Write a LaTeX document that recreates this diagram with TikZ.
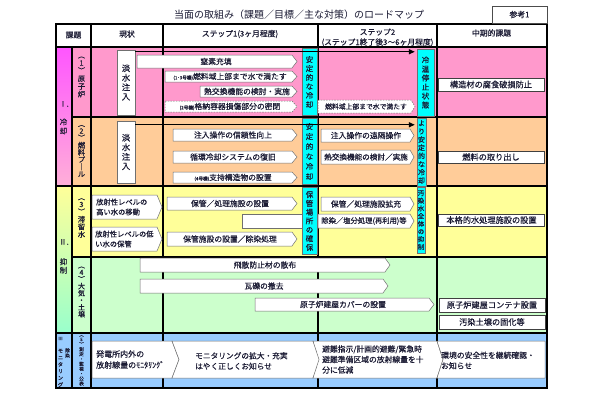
\documentclass[tikz,border=0pt]{standalone}
\usepackage{fontspec}
\setmainfont{Noto Sans CJK JP}[FakeBold=0.35]
\newfontfamily\titlefont{Noto Sans CJK JP}
\usetikzlibrary{arrows.meta}
\definecolor{rowA}{HTML}{FF99CC}
\definecolor{rowB}{HTML}{FFCC99}
\definecolor{rowC}{HTML}{FFFF99}
\definecolor{rowD}{HTML}{CCFFCC}
\definecolor{rowE}{HTML}{99CCFF}
\definecolor{cyanb}{HTML}{00FFFF}
\definecolor{magI}{HTML}{FF55FF}
\definecolor{pinkI}{HTML}{FFB0D8}
\definecolor{mintII}{HTML}{99FFCC}
\definecolor{bordgray}{HTML}{707070}
\definecolor{txtdark}{HTML}{1A1A33}
\newcommand\fsz[2]{\fontsize{#1}{#2}\selectfont}
\newcommand\pshape[6]{\draw[#1] (#2,#3) -- ({#4-#6},#3) -- (#4,{(#3+#5)/2}) -- ({#4-#6},#5) -- (#2,#5) -- cycle;}
\newcommand\cshape[6]{\draw[#1] (#2,#3) -- ({#4-#6},#3) -- (#4,{(#3+#5)/2}) -- ({#4-#6},#5) -- (#2,#5) -- ({#2+#6},{(#3+#5)/2}) -- cycle;}
\newcommand\smalltag[1]{{\fsz{4.6}{5}#1}}
\begin{document}
\begin{tikzpicture}[x=1pt,y=-1pt,
  every node/.style={text=txtdark},
  grid/.style={line width=1.3pt,draw=black,line cap=rect},
  wbox/.style={fill=white,draw=bordgray,line width=0.5pt},
  dbox/.style={fill=white,draw=bordgray,line width=0.5pt,dash pattern=on 1.6pt off 1.1pt},
  btxt/.style={inner sep=0pt,font=\fsz{7.8}{9}},
  mtxt/.style={inner sep=0pt,align=left,font=\fsz{7.8}{10.5},anchor=west},
  vtxt/.style={inner sep=0pt,align=center,font=\fsz{7}{7.5}},
  cyanbox/.style={fill=cyanb,draw=bordgray,line width=0.4pt,inner sep=0pt,align=center},
  tansui/.style={fill=white,draw=bordgray,line width=0.5pt,inner sep=0pt,align=center,minimum width=18pt,font=\fsz{8.3}{9.5}},
  midbox/.style={fill=white,draw=black!75,line width=0.6pt,inner sep=0pt,minimum width=106pt,font=\fsz{8.2}{9}},
  hdr/.style={inner sep=0pt,font=\fsz{7.8}{9}},
  flowarrow/.style={line width=1.3pt,draw=black,-{Triangle[length=6pt,width=5pt]}},
]
\useasboundingbox (0,0) rectangle (610,400);
\fill[white] (0,0) rectangle (610,400);
% backgrounds
\fill[rowA] (72,47) rectangle (547,117);
\fill[rowB] (72,117) rectangle (547,186);
\fill[rowC] (72,186) rectangle (547,257);
\fill[rowD] (72,257) rectangle (547,333);
\fill[rowE] (56,333) rectangle (547,388);
\shade[top color=magI,bottom color=pinkI] (56,47) rectangle (72,186);
\shade[top color=rowC,bottom color=mintII] (56,186) rectangle (72,333);
% grid
\draw[grid] (56,24) rectangle (547,388);
\draw[grid] (56,47) -- (547,47);
\draw[grid] (72,117) -- (547,117);
\draw[grid] (56,186) -- (547,186);
\draw[grid] (72,257) -- (547,257);
\draw[grid] (56,333) -- (547,333);
\draw[grid] (72,47) -- (72,388);
\foreach \x in {91,163,318,437} \draw[grid] (\x,24) -- (\x,388);
% title and header
\node[inner sep=0pt,font=\titlefont\fsz{10}{12}] (title) at (299,15) {当面の取組み（課題／目標／主な対策）のロードマップ};
\node[draw=black!70,line width=0.6pt,fill=white,minimum width=55pt,minimum height=17pt,inner sep=0pt,font=\fsz{7.8}{9}] (sanko) at (519.5,14.5) {参考1};
\node[hdr] (hkadai) at (73.5,35) {課題};
\node[hdr] (hgenjo) at (127,34) {現状};
\node[hdr] (hstep1) at (240,34) {ステップ1(3ヶ月程度)};
\node[hdr] (hstep2) at (377.5,32) {ステップ2};
\node[hdr] (hstep2b) at (377.5,42.5) {(ステップ1終了後3～6ヶ月程度)};
\node[hdr] (hmid) at (491.5,33) {中期的課題};
% roman column labels
\node[inner sep=0pt,font=\fsz{7.5}{8}] (romI) at (64,104) {Ⅰ.};
\node[vtxt,font=\fsz{7.5}{9}] (romIl) at (63.5,126.5) {冷\\却};
\node[inner sep=0pt,font=\fsz{7.5}{8}] (romII) at (64,242) {Ⅱ.};
\node[vtxt,font=\fsz{7.5}{8.5}] (romIIl) at (63.5,266) {抑\\制};
\node[inner sep=0pt,font=\fsz{4.6}{5}] (romIII) at (60.5,338.5) {Ⅲ};
\node[vtxt,font=\fsz{4.6}{5.2}] (romIIIa) at (67.5,353) {除\\染};
\node[vtxt,font=\fsz{5.2}{6.8}] (romIIIb) at (60.5,368) {モ\\ニ\\タ\\リ\\ン\\グ};
% sub labels
\node[vtxt,font=\fsz{7.3}{7.8}] (lab1) at (81.5,77) {︵\\1\\︶\\原\\子\\炉};
\node[vtxt,font=\fsz{7.3}{7.2}] (lab2) at (81.5,151) {︵\\2\\︶\\燃\\料\\プ\\｜\\ル};
\node[vtxt,font=\fsz{7.3}{7.5}] (lab3) at (81.5,218) {︵\\3\\︶\\滞\\留\\水};
\node[vtxt,font=\fsz{7}{7}] (lab4) at (81.5,292) {︵\\4\\︶\\大\\気\\・\\土\\壌};
\node[vtxt,font=\fsz{4.6}{4.9}] (lab5) at (81.5,360.5) {︵\\5\\︶\\測\\定\\・\\監\\視\\・\\公\\表};
% ===== row 1 =====
\node[tansui,minimum height=65pt] (tansui1) at (126,82.5) {淡\\水\\注\\入};
\pshape{wbox}{137}{55}{297}{68}{5}
\node[btxt] (chisso) at (216,61.5) {窒素充填};
\pshape{wbox}{165}{71}{297}{82}{5}
\node[btxt] (mitasu1) at (230,76.5) {\smalltag{(1･3号機)}燃料域上部まで水で満たす};
\pshape{wbox}{200}{86}{297}{97}{5}
\node[btxt] (netsu1) at (247,91.5) {熱交換機能の検討・実施};
\pshape{dbox}{165}{101}{297}{112}{5}
\node[btxt] (mippei) at (230,106.5) {\smalltag{(2号機)}格納容器損傷部分の密閉};
\node[cyanbox,minimum width=15pt,minimum height=67pt,font=\fsz{7.5}{9}] (anzen1) at (309.5,82) {安\\定\\的\\な\\冷\\却};
\pshape{dbox}{318}{100}{415}{113}{4}
\node[btxt,font=\fsz{6.8}{8}] (mitasu2) at (366,106.5) {燃料域上部まで水で満たす};
\node[cyanbox,minimum width=17pt,minimum height=67pt,font=\fsz{7.5}{9}] (reion) at (425.5,82.5) {冷\\温\\停\\止\\状\\態};
\node[midbox,minimum height=13pt] (fushoku) at (491,84.5) {構造材の腐食破損防止};
\coordinate (a1) at ([yshift=-2pt]tansui1.north east);
\draw[flowarrow,shorten >=2pt] (a1) -- (a1 -| reion.west);
% ===== row 2 =====
\node[tansui,minimum height=62pt] (tansui2) at (126,152) {淡\\水\\注\\入};
\pshape{wbox}{173}{129}{297}{141}{5}
\node[btxt] (shinrai) at (233,135) {注入操作の信頼性向上};
\pshape{wbox}{173}{151}{297}{163}{5}
\node[btxt] (junkan) at (233,157) {循環冷却システムの復旧};
\pshape{wbox}{173}{172}{297}{183}{5}
\node[btxt] (shiji) at (233,177.5) {\smalltag{(4号機)}支持構造物の設置};
\node[cyanbox,minimum width=15pt,minimum height=66pt,font=\fsz{7.5}{10}] (anzen2) at (309.5,151.5) {安\\定\\的\\な\\冷\\却};
\pshape{wbox}{321}{129}{414}{142}{4}
\node[btxt] (enkaku) at (366,135.5) {注入操作の遠隔操作};
\pshape{wbox}{321}{150}{414}{164}{4}
\node[btxt,font=\fsz{7.6}{9}] (netsu2) at (366,157) {熱交換機能の検討／実施};
\node[cyanbox,minimum width=9pt,minimum height=68pt,font=\fsz{7}{8.2}] (yori) at (421.5,152) {よ\\り\\安\\定\\的\\な\\冷\\却};
\node[midbox,minimum height=12pt] (toridashi) at (491,157) {燃料の取り出し};
\coordinate (a2) at ([yshift=-4pt]tansui2.north east);
\draw[flowarrow,shorten >=2pt] (a2) -- (a2 -| yori.west);
% ===== row 3 =====
\pshape{wbox}{92}{195}{162}{219}{5}
\node[mtxt,font=\fsz{7.3}{10}] (takai) at (96,207) {放射性レベルの\\高い水の移動};
\pshape{wbox}{92}{227}{162}{251}{5}
\node[mtxt,font=\fsz{7.3}{10}] (hikui) at (95,239) {放射性レベルの低\\い水の保管};
\pshape{wbox}{167}{197}{297}{210}{5}
\node[btxt] (shori1) at (230,203.5) {保管／処理施設の設置};
\draw[wbox] (242,214) rectangle (304,228);
\pshape{wbox}{167}{232}{297}{246}{5}
\node[btxt] (josen1) at (230,239) {保管施設の設置／除染処理};
\node[cyanbox,minimum width=15pt,minimum height=67pt,font=\fsz{7.5}{8.8}] (hokan) at (309.5,221) {保\\管\\場\\所\\の\\確\\保};
\pshape{wbox}{321}{197}{414}{211}{4}
\node[btxt] (kakuju) at (366,204) {保管／処理施設拡充};
\pshape{wbox}{318}{214}{414}{228}{4}
\node[btxt,font=\fsz{7.3}{9}] (ensho) at (364,221) {除染／塩分処理(再利用)等};
\node[cyanbox,minimum width=8pt,minimum height=66pt,font=\fsz{6.5}{7.7}] (osen) at (421,220) {汚\\染\\水\\全\\体\\の\\抑\\制};
\node[midbox,minimum height=12pt] (honkaku) at (491.5,220) {本格的水処理施設の設置};
% ===== row 4 =====
\pshape{wbox}{140}{258}{390}{272}{5}
\node[btxt] (hisan) at (265,265) {飛散防止材の散布};
\pshape{wbox}{140}{279}{388}{293}{5}
\node[btxt] (gareki) at (264,286) {瓦礫の撤去};
\pshape{wbox}{255}{298}{434}{311}{5}
\node[btxt] (cover) at (343,304.5) {原子炉建屋カバーの設置};
\node[midbox,minimum height=14pt] (container) at (492,305) {原子炉建屋コンテナ設置};
\node[midbox,minimum height=14pt] (koka) at (492,322) {汚染土壌の固化等};
% ===== row 5 =====
\pshape{wbox}{92}{341}{179}{378}{7}
\node[mtxt,font=\fsz{8}{11}] (mon1) at (96,359.5) {発電所内外の\\放射線量のﾓﾆﾀﾘﾝｸﾞ};
\cshape{wbox}{172}{341}{320}{378}{7}
\node[mtxt,font=\fsz{7.7}{10.5}] (mon2) at (195,361) {モニタリングの拡大・充実\\はやく正しくお知らせ};
\cshape{wbox}{313}{341}{443}{378}{6}
\node[mtxt,font=\fsz{7.8}{10.5}] (mon3) at (322,359.5) {避難指示/計画的避難/緊急時\\避難準備区域の放射線量を十\\分に低減};
\draw[wbox] (437,341) -- (545,341) -- (545,378) -- (437,378) -- (443,359.5) -- cycle;
\node[mtxt,font=\fsz{7.8}{10.5}] (mon4) at (441,360.5) {環境の安全性を継続確認・\\お知らせ};
\end{tikzpicture}
\end{document}
